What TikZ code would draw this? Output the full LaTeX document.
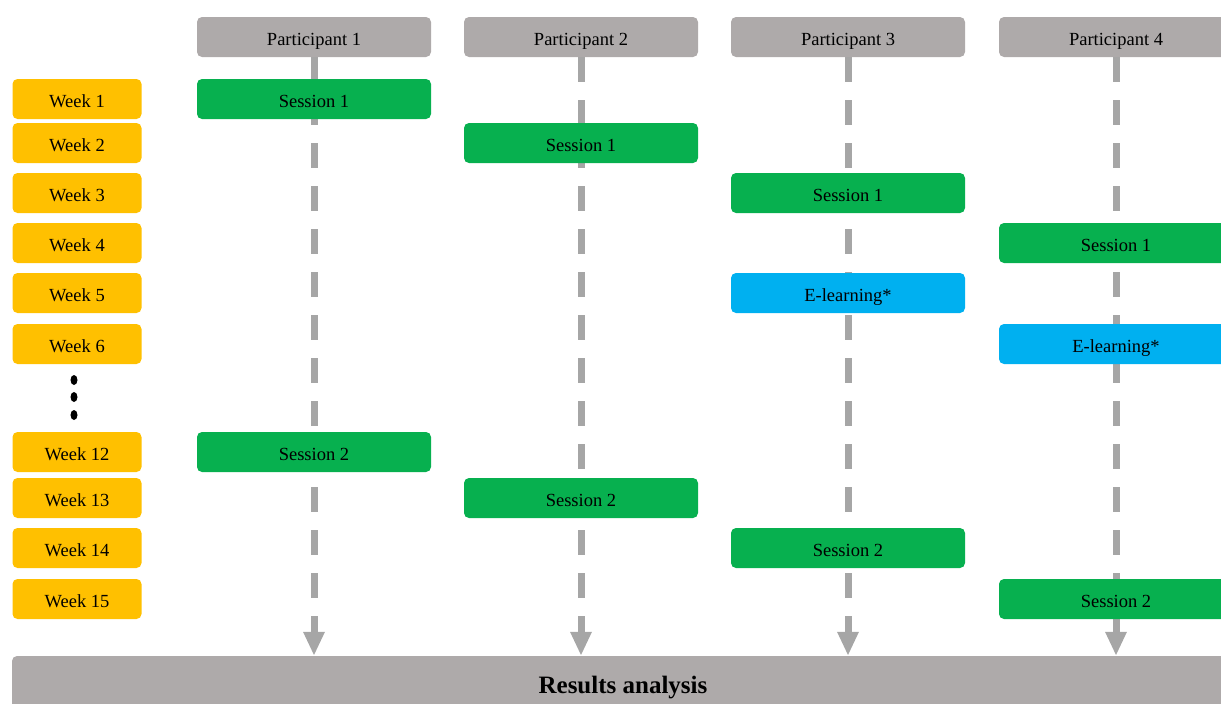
\documentclass[tikz,border=0pt]{standalone}
\usepackage{fontspec}
\setmainfont{Liberation Serif}
\usepackage{tikz}
\usetikzlibrary{arrows.meta}

\definecolor{boxgray}{HTML}{AEAAAA}
\definecolor{linegray}{HTML}{A6A6A6}
\definecolor{weekyellow}{HTML}{FFC000}
\definecolor{sessiongreen}{HTML}{07B04F}
\definecolor{elearnblue}{HTML}{00B0F0}

\tikzset{
  box/.style={rounded corners=5pt, minimum width=234pt, minimum height=40pt,
    inner sep=0pt, text height=16pt, text depth=0pt, font=\fontsize{18.5}{20}\selectfont},
  partbox/.style={box, fill=boxgray, text height=17pt},
  weekbox/.style={box, fill=weekyellow, minimum width=129pt},
  sessbox/.style={box, fill=sessiongreen},
  elearnbox/.style={box, fill=elearnblue},
  timeline/.style={draw=linegray, line width=7pt, dash pattern=on 25pt off 18pt,
    -{Triangle[width=20pt, length=24pt]}}
}

\begin{document}
\begin{tikzpicture}[x=1pt, y=-1pt]
  \useasboundingbox (0, 0) rectangle (1221, 704);

  % results bar at the bottom
  \node[box, fill=boxgray, minimum width=1222pt, minimum height=58pt, text height=16pt,
        font=\fontsize{25}{27}\selectfont\bfseries] (res) at (623, 685) {Results analysis};

  % participants
  \node[partbox] (p1) at (314, 37)  {Participant 1};
  \node[partbox] (p2) at (581, 37)  {Participant 2};
  \node[partbox] (p3) at (848, 37)  {Participant 3};
  \node[partbox] (p4) at (1116, 37) {Participant 4};

  % time lines
  \draw[timeline] (p1.south) -- (p1.south |- res.north);
  \draw[timeline] (p2.south) -- (p2.south |- res.north);
  \draw[timeline] (p3.south) -- (p3.south |- res.north);
  \draw[timeline] (p4.south) -- (p4.south |- res.north);

  % weeks
  \node[weekbox] (w1)  at (77, 99)  {Week 1};
  \node[weekbox] (w2)  at (77, 143) {Week 2};
  \node[weekbox] (w3)  at (77, 193) {Week 3};
  \node[weekbox] (w4)  at (77, 243) {Week 4};
  \node[weekbox] (w5)  at (77, 293) {Week 5};
  \node[weekbox] (w6)  at (77, 344) {Week 6};
  \node[weekbox] (w12) at (77, 452) {Week 12};
  \node[weekbox] (w13) at (77, 498) {Week 13};
  \node[weekbox] (w14) at (77, 548) {Week 14};
  \node[weekbox] (w15) at (77, 599) {Week 15};

  % dots between week 6 and week 12
  \fill (74, 380) ellipse (3.5pt and 5pt);
  \fill (74, 397) ellipse (3.5pt and 5pt);
  \fill (74, 415) ellipse (3.5pt and 5pt);

  % sessions
  \node[sessbox]   (s11) at (p1 |- w1)  {Session 1};
  \node[sessbox]   (s21) at (p2 |- w2)  {Session 1};
  \node[sessbox]   (s31) at (p3 |- w3)  {Session 1};
  \node[sessbox]   (s41) at (p4 |- w4)  {Session 1};
  \node[elearnbox] (e3)  at (p3 |- w5)  {E-learning*};
  \node[elearnbox] (e4)  at (p4 |- w6)  {E-learning*};
  \node[sessbox]   (s12) at (p1 |- w12) {Session 2};
  \node[sessbox]   (s22) at (p2 |- w13) {Session 2};
  \node[sessbox]   (s32) at (p3 |- w14) {Session 2};
  \node[sessbox]   (s42) at (p4 |- w15) {Session 2};
\end{tikzpicture}
\end{document}
